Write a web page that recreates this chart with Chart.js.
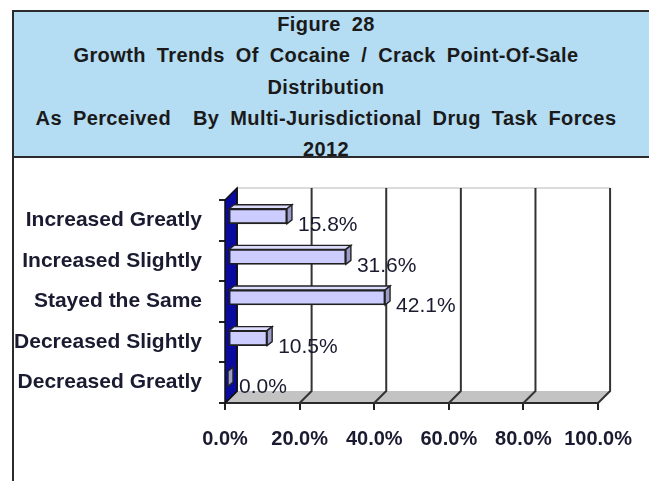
<!DOCTYPE html>
<html>
<head>
<meta charset="utf-8">
<title>Figure 28</title>
<script src="https://cdn.jsdelivr.net/npm/chart.js@4.4.0/dist/chart.umd.min.js"></script>
<style>
  html, body { margin: 0; padding: 0; background: #fff; width: 649px; height: 481px; overflow: hidden; }
  #frame { position: absolute; left: 12px; top: 10px; width: 700px; height: 480px; border-left: 2px solid #2b2b2b; }
  #header { position: absolute; left: 12px; top: 10px; width: 700px; height: 144px; background: #b4dcf3; border: 2px solid #2b2b2b; }
  #title { position: absolute; left: 12px; top: 9px; width: 628px; text-align: center; color: #1a1a1a;
           font: bold 20px "Liberation Sans", Arial, sans-serif; line-height: 31.3px; letter-spacing: 0.4px; word-spacing: 5px; }
  #chart { position: absolute; left: 0; top: 0; }
</style>
</head>
<body>
<div id="frame"></div>
<div id="header"></div>
<div id="title">
  <div>Figure 28</div>
  <div>Growth Trends Of Cocaine / Crack Point-Of-Sale</div>
  <div>Distribution</div>
  <div>As Perceived&nbsp; By Multi-Jurisdictional Drug Task Forces</div>
  <div>2012</div>
</div>
<canvas id="chart" width="649" height="481"></canvas>
<script>
// answers per category, percent of task forces
const categories = ['Increased Greatly', 'Increased Slightly', 'Stayed the Same', 'Decreased Slightly', 'Decreased Greatly'];
const shares = [15.8, 31.6, 42.1, 10.5, 0.0];
const xTicks = [0, 20, 40, 60, 80, 100];

const textColor = '#1a1a30';

// fake 3d: walls offset, bar plane offset, bar thickness offset
const WALL = { dx: 12, dy: -12 };
const SHIFT = { dx: 3, dy: -4 };
const DEPTH = { dx: 5, dy: -4 };

function poly(ctx, pts, fill, stroke, lw) {
  ctx.beginPath();
  ctx.moveTo(pts[0][0], pts[0][1]);
  for (let i = 1; i < pts.length; i++) ctx.lineTo(pts[i][0], pts[i][1]);
  ctx.closePath();
  if (fill) { ctx.fillStyle = fill; ctx.fill(); }
  if (stroke) { ctx.strokeStyle = stroke; ctx.lineWidth = lw || 1; ctx.stroke(); }
}

const frame3d = {
  id: 'frame3d',
  beforeDatasetsDraw(chart) {
    const ctx = chart.ctx;
    const a = chart.chartArea;
    const x = chart.scales.x;

    // back wall
    ctx.fillStyle = '#fff';
    ctx.fillRect(a.left + WALL.dx, a.top + WALL.dy, a.right - a.left, a.bottom - a.top);
    ctx.strokeStyle = '#cfcfcf';
    ctx.lineWidth = 1.5;
    ctx.beginPath();
    ctx.moveTo(a.left + WALL.dx, a.top + WALL.dy);
    ctx.lineTo(a.right + WALL.dx, a.top + WALL.dy);
    ctx.stroke();

    // floor
    poly(ctx, [[a.left, a.bottom], [a.right, a.bottom], [a.right + WALL.dx, a.bottom + WALL.dy], [a.left + WALL.dx, a.bottom + WALL.dy]], '#c3c3c3');
    ctx.strokeStyle = '#2a2a2a';
    ctx.lineWidth = 2;
    ctx.beginPath();
    ctx.moveTo(a.left, a.bottom);
    ctx.lineTo(a.right, a.bottom);
    ctx.stroke();

    // grid lines up the back wall and across the floor
    xTicks.forEach(v => {
      const px = x.getPixelForValue(v);
      ctx.beginPath();
      ctx.moveTo(px + WALL.dx, a.top + WALL.dy);
      ctx.lineTo(px + WALL.dx, a.bottom + WALL.dy);
      ctx.lineTo(px, a.bottom);
      ctx.strokeStyle = '#333';
      ctx.lineWidth = 2;
      ctx.stroke();
    });

    // left wall
    poly(ctx, [[a.left, a.top], [a.left + WALL.dx, a.top + WALL.dy], [a.left + WALL.dx, a.bottom + WALL.dy], [a.left, a.bottom]], '#0a0a9c', '#111', 1.5);

    // bars sit a little behind the front plane
    ctx.save();
    ctx.translate(SHIFT.dx, SHIFT.dy);
    chart.getDatasetMeta(0).data.forEach(bar => {
      const p = bar.getProps(['x', 'y', 'base', 'height'], true);
      const top = p.y - p.height / 2, bottom = p.y + p.height / 2;
      poly(ctx, [[p.base, top], [p.base + DEPTH.dx, top + DEPTH.dy], [p.x + DEPTH.dx, top + DEPTH.dy], [p.x, top]], '#dcdcff', '#222', 1.4);
      poly(ctx, [[p.x, top], [p.x + DEPTH.dx, top + DEPTH.dy], [p.x + DEPTH.dx, bottom + DEPTH.dy], [p.x, bottom]], '#9c9cc8', '#222', 1.4);
    });
  },
  afterDatasetsDraw(chart) {
    const ctx = chart.ctx;
    ctx.restore();

    // value labels
    ctx.font = '21px "Liberation Sans", Arial, sans-serif';
    ctx.fillStyle = textColor;
    ctx.textAlign = 'left';
    ctx.textBaseline = 'middle';
    chart.getDatasetMeta(0).data.forEach((bar, i) => {
      const p = bar.getProps(['x', 'y'], true);
      ctx.fillText(shares[i].toFixed(1) + '%', p.x + SHIFT.dx + 11, p.y + SHIFT.dy + 9);
    });
  }
};

new Chart(document.getElementById('chart'), {
  type: 'bar',
  data: {
    labels: categories,
    datasets: [{
      data: shares,
      backgroundColor: '#ccccff',
      borderColor: '#202020',
      borderWidth: 1.8,
      borderSkipped: false,
      barThickness: 15
    }]
  },
  options: {
    indexAxis: 'y',
    responsive: false,
    animation: false,
    devicePixelRatio: 1,
    layout: { padding: { top: 200, right: 48, bottom: 0, left: 0 } },
    plugins: { legend: { display: false }, tooltip: { enabled: false } },
    scales: {
      x: {
        min: 0,
        max: 100,
        afterBuildTicks(s) { s.ticks = xTicks.map(v => ({ value: v })); },
        afterFit(s) { s.height = 78; },
        grid: { drawOnChartArea: false, drawTicks: true, tickLength: 7, color: '#222', lineWidth: 2 },
        border: { display: false },
        ticks: {
          padding: 17,
          color: textColor,
          font: { family: '"Liberation Sans", Arial, sans-serif', size: 20, weight: 'bold' },
          callback: v => v.toFixed(1) + '%'
        }
      },
      y: {
        afterFit(s) { s.width = 225; },
        grid: { drawOnChartArea: false, drawTicks: true, tickLength: 6, color: '#222', lineWidth: 2, offset: true },
        border: { display: false },
        ticks: {
          padding: 17,
          color: textColor,
          font: { family: '"Liberation Sans", Arial, sans-serif', size: 21, weight: 'bold' }
        }
      }
    }
  },
  plugins: [frame3d]
});
</script>
</body>
</html>
